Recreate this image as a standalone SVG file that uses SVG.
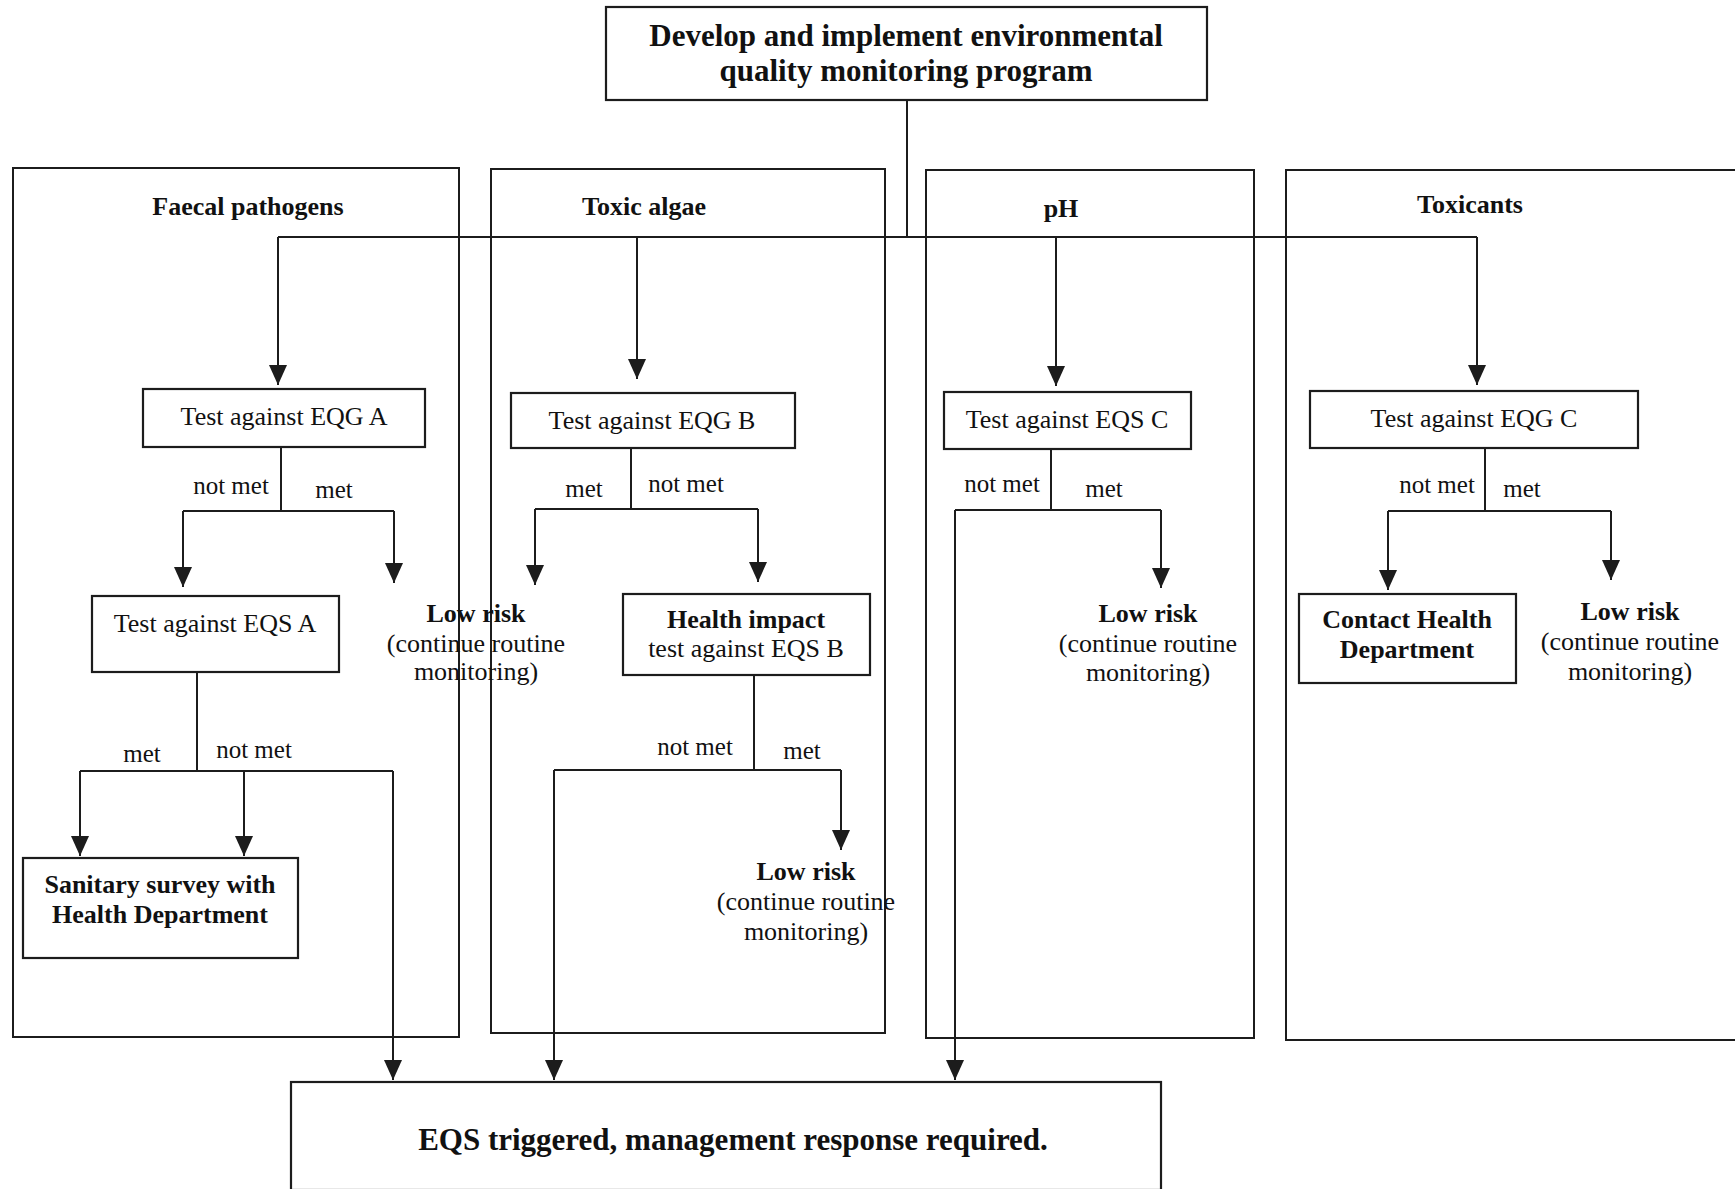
<svg xmlns="http://www.w3.org/2000/svg" width="1735" height="1189" viewBox="0 0 1735 1189">
  <style>
    .box { fill: none; stroke: #1c1c1c; stroke-width: 2.2; }
    .panel { fill: none; stroke: #1c1c1c; stroke-width: 2; }
    .line { fill: none; stroke: #1c1c1c; stroke-width: 2; }
    .arr { marker-end: url(#head); }
    text { font-family: "Liberation Serif", "Times New Roman", serif; fill: #111; text-anchor: middle; }
    .b { font-weight: bold; }
    .h { font-size: 26px; font-weight: bold; }
    .t { font-size: 26px; }
    .lbl { font-size: 25px; }
    .big { font-size: 31px; font-weight: bold; }
  </style>
  <defs>
    <marker id="head" markerUnits="userSpaceOnUse" viewBox="0 0 20 18" refX="20" refY="9" markerWidth="20" markerHeight="18" orient="auto">
      <path d="M0,0 L20,9 L0,18 z" fill="#1c1c1c"/>
    </marker>
  </defs>
  <rect width="1735" height="1189" fill="#ffffff"/>

  <!-- category panels -->
  <g id="panel-faecal">
    <rect class="panel" x="13" y="168" width="446" height="869"/>
    <text class="h" x="248" y="215">Faecal pathogens</text>
  </g>
  <g id="panel-algae">
    <rect class="panel" x="491" y="169" width="394" height="864"/>
    <text class="h" x="644" y="215">Toxic algae</text>
  </g>
  <g id="panel-ph">
    <rect class="panel" x="926" y="170" width="328" height="868"/>
    <text class="h" x="1061" y="217">pH</text>
  </g>
  <g id="panel-toxicants">
    <rect class="panel" x="1286" y="170" width="460" height="870"/>
    <text class="h" x="1470" y="213">Toxicants</text>
  </g>

  <!-- connectors -->
  <g id="connectors">
    <path class="line" d="M907,101 V237 M278,237 H1477"/>
    <path class="line arr" d="M278,237 V385"/>
    <path class="line arr" d="M637,237 V379"/>
    <path class="line arr" d="M1056,237 V386"/>
    <path class="line arr" d="M1477,237 V385"/>

    <!-- faecal pathogens -->
    <path class="line" d="M281,447 V511 M183,511 H394"/>
    <path class="line arr" d="M183,511 V587"/>
    <path class="line arr" d="M394,511 V583"/>
    <path class="line" d="M197,672 V771 M80,771 H393"/>
    <path class="line arr" d="M80,771 V856"/>
    <path class="line arr" d="M244,771 V856"/>
    <path class="line arr" d="M393,771 V1080"/>

    <!-- toxic algae -->
    <path class="line" d="M631,448 V509 M535,509 H758"/>
    <path class="line arr" d="M535,509 V585"/>
    <path class="line arr" d="M758,509 V582"/>
    <path class="line" d="M754,675 V770 M554,770 H841"/>
    <path class="line arr" d="M841,770 V850"/>
    <path class="line arr" d="M554,770 V1080"/>

    <!-- pH -->
    <path class="line" d="M1051,449 V510 M955,510 H1161"/>
    <path class="line arr" d="M1161,510 V588"/>
    <path class="line arr" d="M955,510 V1080"/>

    <!-- toxicants -->
    <path class="line" d="M1485,448 V511 M1388,511 H1611"/>
    <path class="line arr" d="M1388,511 V590"/>
    <path class="line arr" d="M1611,511 V580"/>
  </g>

  <!-- branch labels -->
  <g id="branch-labels" class="lbl">
    <text class="lbl" x="231" y="494">not met</text>
    <text class="lbl" x="334" y="498">met</text>
    <text class="lbl" x="142" y="762">met</text>
    <text class="lbl" x="254" y="758">not met</text>
    <text class="lbl" x="584" y="497">met</text>
    <text class="lbl" x="686" y="492">not met</text>
    <text class="lbl" x="695" y="755">not met</text>
    <text class="lbl" x="802" y="759">met</text>
    <text class="lbl" x="1002" y="492">not met</text>
    <text class="lbl" x="1104" y="497">met</text>
    <text class="lbl" x="1437" y="493">not met</text>
    <text class="lbl" x="1522" y="497">met</text>
  </g>

  <!-- nodes -->
  <g id="start">
    <rect class="box" x="606" y="7" width="601" height="93"/>
    <text class="big" x="906" y="46">Develop and implement environmental</text>
    <text class="big" x="906" y="81">quality monitoring program</text>
  </g>

  <g id="test-eqg-a">
    <rect class="box" x="143" y="389" width="282" height="58"/>
    <text class="t" x="284" y="425">Test against EQG A</text>
  </g>
  <g id="test-eqs-a">
    <rect class="box" x="92" y="596" width="247" height="76"/>
    <text class="t" x="215" y="632">Test against EQS A</text>
  </g>
  <g id="low-risk-a">
    <text class="t b" x="476" y="622">Low risk</text>
    <text class="t" x="476" y="652">(continue routine</text>
    <text class="t" x="476" y="680">monitoring)</text>
  </g>
  <g id="sanitary-survey">
    <rect class="box" x="23" y="858" width="275" height="100"/>
    <text class="t b" x="160" y="893">Sanitary survey with</text>
    <text class="t b" x="160" y="923">Health Department</text>
  </g>

  <g id="test-eqg-b">
    <rect class="box" x="511" y="393" width="284" height="55"/>
    <text class="t" x="652" y="429">Test against EQG B</text>
  </g>
  <g id="health-impact">
    <rect class="box" x="623" y="594" width="247" height="81"/>
    <text class="t b" x="746" y="628">Health impact</text>
    <text class="t" x="746" y="657">test against EQS B</text>
  </g>
  <g id="low-risk-b">
    <text class="t b" x="806" y="880">Low risk</text>
    <text class="t" x="806" y="910">(continue routine</text>
    <text class="t" x="806" y="940">monitoring)</text>
  </g>

  <g id="test-eqs-c">
    <rect class="box" x="944" y="392" width="247" height="57"/>
    <text class="t" x="1067" y="428">Test against EQS C</text>
  </g>
  <g id="low-risk-c">
    <text class="t b" x="1148" y="622">Low risk</text>
    <text class="t" x="1148" y="652">(continue routine</text>
    <text class="t" x="1148" y="681">monitoring)</text>
  </g>

  <g id="test-eqg-c">
    <rect class="box" x="1310" y="391" width="328" height="57"/>
    <text class="t" x="1474" y="427">Test against EQG C</text>
  </g>
  <g id="contact-health">
    <rect class="box" x="1299" y="594" width="217" height="89"/>
    <text class="t b" x="1407" y="628">Contact Health</text>
    <text class="t b" x="1407" y="658">Department</text>
  </g>
  <g id="low-risk-d">
    <text class="t b" x="1630" y="620">Low risk</text>
    <text class="t" x="1630" y="650">(continue routine</text>
    <text class="t" x="1630" y="680">monitoring)</text>
  </g>

  <g id="eqs-triggered">
    <rect class="box" x="291" y="1082" width="870" height="108"/>
    <text class="big" x="733" y="1150">EQS triggered, management response required.</text>
  </g>
</svg>
